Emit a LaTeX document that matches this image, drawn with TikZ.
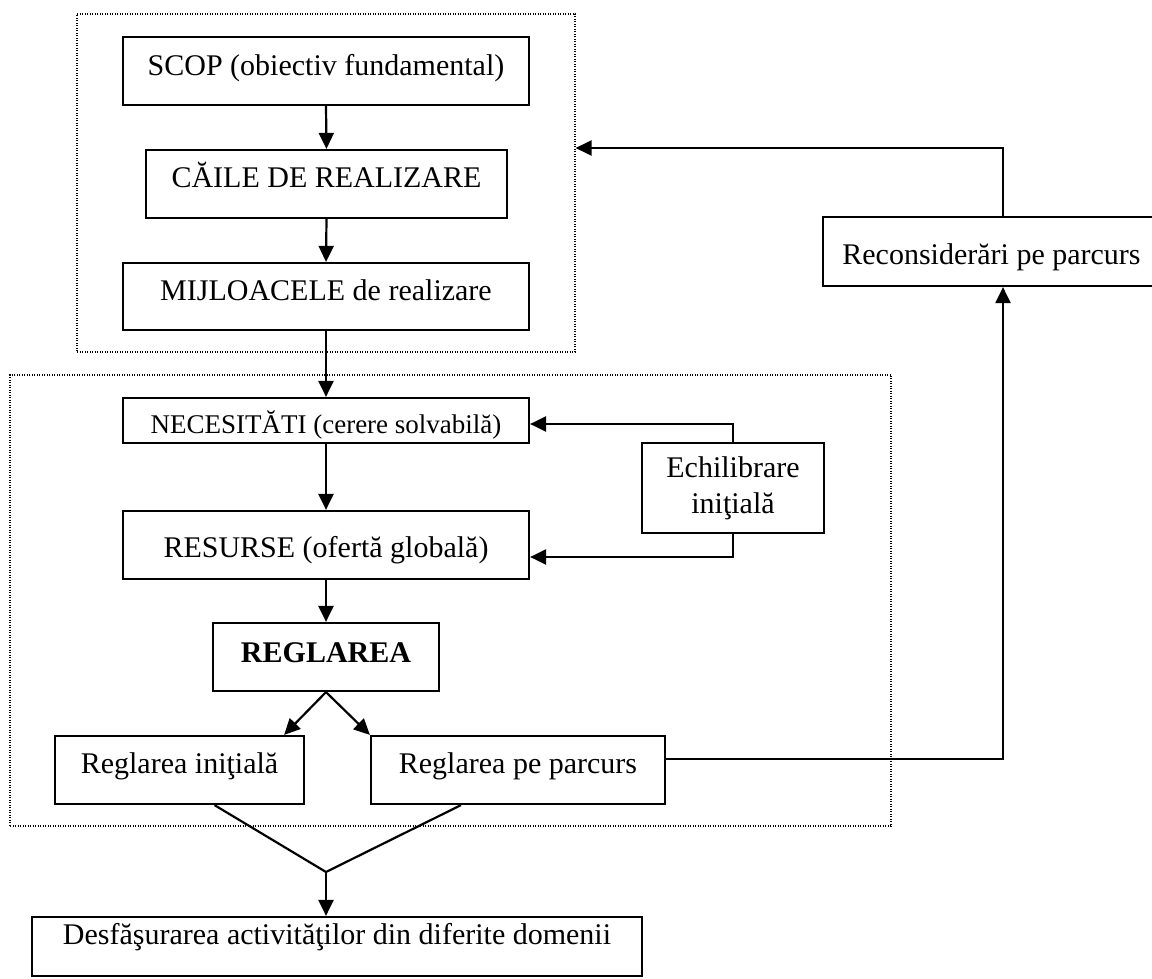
\documentclass[tikz,border=0pt]{standalone}
\usepackage{fontspec}
\setmainfont{Liberation Serif}
\usetikzlibrary{arrows.meta}
\begin{document}
\begin{tikzpicture}[x=1pt,y=-1pt,
  box/.style={draw, line width=2.2pt, inner sep=0pt, anchor=base,
    font=\fontsize{30}{36}\selectfont},
  grp/.style={draw, line width=1.1pt, dash pattern=on 1pt off 1.5pt, inner sep=0pt},
  conn/.style={line width=2.2pt},
  arr/.style={conn, -{Triangle[length=16pt,width=15pt]}}]
\useasboundingbox (0,0) rectangle (1152,979);
% group frames
\node[grp, minimum width=498pt, minimum height=338pt] (topgrp) at (326,183) {};
\node[grp, minimum width=881pt, minimum height=451pt] (botgrp) at (450.5,600.5) {};
% boxes
\node[box, minimum width=406pt, text height=39pt, text depth=29pt] (scop) at (326,76) {SCOP (obiectiv fundamental)};
\node[box, minimum width=361pt, text height=38pt, text depth=30pt] (cai) at (326.5,188) {CĂILE DE REALIZARE};
\node[box, minimum width=406pt, text height=37pt, text depth=30pt] (mij) at (326,300) {MIJLOACELE de realizare};
\node[box, minimum width=406pt, text height=35pt, text depth=10pt, font=\fontsize{27}{32}\selectfont] (nec) at (326,433) {NECESITĂTI (cerere solvabilă)};
\node[box, minimum width=406pt, text height=46pt, text depth=22pt] (res) at (326,557) {RESURSE (ofertă globală)};
\node[box, anchor=center, minimum width=182pt, minimum height=90pt, align=center] (ech) at (733,488) {Echilibrare\\iniţială};
\node[box, minimum width=226pt, text height=39pt, text depth=29pt, font=\fontsize{30}{36}\selectfont\bfseries] (reg) at (326,662) {REGLAREA};
\node[box, minimum width=249pt, text height=37pt, text depth=31pt] (ini) at (179.5,773) {Reglarea iniţială};
\node[box, minimum width=294pt, text height=37pt, text depth=31pt] (pe) at (518,773) {Reglarea pe parcurs};
\node[box, minimum width=610pt, text height=27pt, text depth=32pt] (desf) at (337,944) {Desfăşurarea activităţilor din diferite domenii};
\node[box, minimum width=337pt, text height=47pt, text depth=22pt] (rec) at (991.5,264) {Reconsiderări pe parcurs};
% connectors
\draw[arr] (scop.south) -- (cai.north);
\draw[arr] (cai.south) -- (mij.north);
\draw[arr] (mij.south) -- (nec.north);
\draw[arr] (nec.south) -- (res.north);
\draw[arr] (res.south) -- (reg.north);
\draw[arr] (ech.north) |- ([yshift=-3.5pt]nec.east);
\draw[arr] (ech.south) |- ([yshift=-12pt]res.east);
\draw[arr] (reg.south) -- ([xshift=-21pt]ini.north east);
\draw[arr] (reg.south) -- (pe.north west);
\coordinate (v) at (326,872);
\draw[conn] ([xshift=35pt]ini.south) -- (v) -- ([xshift=-57pt]pe.south);
\draw[arr] (v) -- (v |- desf.north);
\coordinate (rx) at ([xshift=11.5pt]rec.south);
\draw[arr] ([yshift=11pt]pe.east) -| (rx);
\coordinate (rt) at ([xshift=11.5pt]rec.north);
\draw[arr] (rt) |- ([yshift=35pt]topgrp.east);
\end{tikzpicture}
\end{document}
